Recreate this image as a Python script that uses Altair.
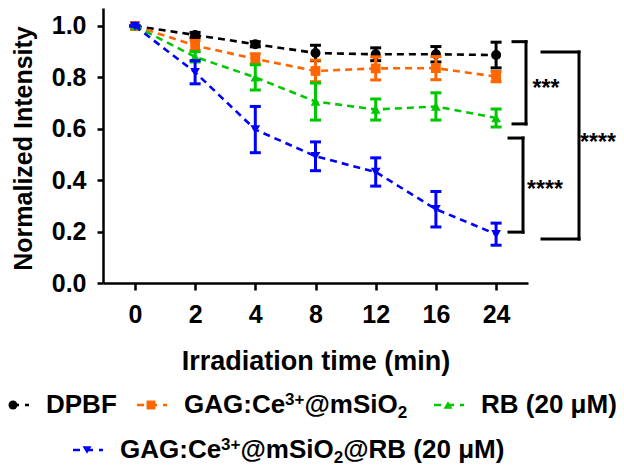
import altair as alt
import pandas as pd

# ---------------- data ----------------
times = ["0", "2", "4", "8", "12", "16", "24"]
series_names = ["DPBF", "GAG:Ce3+@mSiO2", "RB (20 μM)", "GAG:Ce3+@mSiO2@RB (20 μM)"]

dpbf = [1.0, 0.965, 0.929, 0.895, 0.89, 0.89, 0.887]
dpbf_err = [0.0, 0.01, 0.01, 0.03, 0.025, 0.03, 0.05]

ce_msio2 = [1.0, 0.924, 0.872, 0.825, 0.835, 0.836, 0.803]
ce_msio2_err = [0.0, 0.02, 0.02, 0.042, 0.045, 0.045, 0.02]

rb = [1.0, 0.88, 0.80, 0.706, 0.675, 0.687, 0.642]
rb_err = [0.0, 0.02, 0.049, 0.072, 0.041, 0.053, 0.035]

ce_msio2_rb = [1.0, 0.82, 0.597, 0.493, 0.432, 0.287, 0.19]
ce_msio2_rb_err = [0.0, 0.045, 0.09, 0.056, 0.055, 0.069, 0.043]

# legend labels split into (text, kind) pieces: n = normal, sup = superscript, sub = subscript
legend_pieces = [
    [("DPBF", "n")],
    [("GAG:Ce", "n"), ("3+", "sup"), ("@mSiO", "n"), ("2", "sub")],
    [("RB (20 μM)", "n")],
    [("GAG:Ce", "n"), ("3+", "sup"), ("@mSiO", "n"), ("2", "sub"), ("@RB (20 μM)", "n")],
]

# significance brackets
bracket_top = [0.939, 0.564, 0.899]
bracket_bottom = [0.619, 0.198, 0.171]
bracket_labels = ["***", "****", "****"]
bracket_label_y = [0.778, 0.385, 0.568]

# ---------------- styles ----------------
colors = ["#000000", "#FF6600", "#00C800", "#0000FF"]
shapes = ["circle", "square", "triangle-up", "triangle-down"]
sizes = [100, 95, 95, 95]
FONT = "Liberation Sans"
W, H = 425, 275
YMAX = 1.07

yscale = alt.Scale(domain=[0, YMAX], nice=False, zero=True)
xscale = alt.Scale(type="point", padding=0.53, domain=times)

yaxis = alt.Axis(
    title="Normalized Intensity", values=[0, 0.2, 0.4, 0.6, 0.8, 1.0], format=".1f",
    grid=False, domainColor="black", domainWidth=2.5, tickColor="black", tickWidth=2.5,
    tickSize=6, labelFont=FONT, labelFontSize=25, labelFontWeight="bold", labelColor="black",
    labelPadding=11, titleFont=FONT, titleFontSize=25, titleFontWeight="bold", titleColor="black",
    titleAngle=270, titleBaseline="alphabetic", titleX=-72, titleY=140, titleAlign="center",
)
xaxis = alt.Axis(
    title="Irradiation time (min)", labelAngle=0, grid=False, domainColor="black",
    domainWidth=2.5, tickColor="black", tickWidth=2.5, tickSize=7, labelFont=FONT,
    labelFontSize=25, labelFontWeight="bold", labelColor="black", labelPadding=12,
    titleFont=FONT, titleFontSize=27, titleFontWeight="bold", titleColor="black",
    titleBaseline="alphabetic", titleY=86,
)


def Y(field):
    return alt.Y(f"{field}:Q", scale=yscale, axis=yaxis)


def X():
    return alt.X("t:O", scale=xscale, sort=times, axis=xaxis)


layers = []
all_vals = [dpbf, ce_msio2, rb, ce_msio2_rb]
all_errs = [dpbf_err, ce_msio2_err, rb_err, ce_msio2_rb_err]
for name, vals, errs, col, shp, sz in zip(series_names, all_vals, all_errs, colors, shapes, sizes):
    df = pd.DataFrame({
        "t": times,
        "v": vals,
        "lo": [v - e for v, e in zip(vals, errs)],
        "hi": [v + e for v, e in zip(vals, errs)],
        "series": name,
    })
    base = alt.Chart(df)
    line = base.mark_line(color=col, strokeWidth=2.6, strokeDash=[7, 5]).encode(x=X(), y=Y("v"))
    err = base.mark_rule(color=col, strokeWidth=3).encode(x=X(), y=Y("lo"), y2="hi:Q")
    cap_lo = base.mark_tick(color=col, thickness=3, size=11, opacity=1).encode(x=X(), y=Y("lo"))
    cap_hi = base.mark_tick(color=col, thickness=3, size=11, opacity=1).encode(x=X(), y=Y("hi"))
    pts = base.mark_point(filled=True, shape=shp, size=sz, color=col, opacity=1).encode(x=X(), y=Y("v"))
    layers += [line, err, cap_lo, cap_hi, pts]

# ---------------- significance brackets ----------------
bracket_x = [(410, 423), (406, 420), (439, 476)]
label_x = [443, 442, 495]
for top, bot, lab, ly, (x0, x1), lx in zip(bracket_top, bracket_bottom, bracket_labels,
                                           bracket_label_y, bracket_x, label_x):
    bdf = pd.DataFrame({"v": [top], "v2": [bot], "lab": [lab], "ly": [ly]})
    b = alt.Chart(bdf)
    layers.append(b.mark_rule(color="black", strokeWidth=3, strokeCap="square").encode(
        x=alt.value(x1), y=Y("v"), y2="v2:Q"))
    layers.append(b.mark_rule(color="black", strokeWidth=3, strokeCap="square").encode(
        x=alt.value(x0), x2=alt.value(x1), y=Y("v")))
    layers.append(b.mark_rule(color="black", strokeWidth=3, strokeCap="square").encode(
        x=alt.value(x0), x2=alt.value(x1), y=Y("v2")))
    layers.append(b.mark_text(font=FONT, fontSize=23, fontWeight="bold", color="black",
                              align="center", baseline="alphabetic", dy=13).encode(
        x=alt.value(lx), y=Y("ly"), text="lab:N"))

# ---------------- legend (two rows, second centred) ----------------
# Liberation Sans Bold advance widths (per 1000 em)
ADV = {"G": 778, "A": 722, ":": 333, "C": 722, "e": 556, "@": 975, "m": 889, "S": 667,
       "i": 278, "O": 778, "R": 722, "B": 722, " ": 278, "(": 333, ")": 333, "0": 556,
       "2": 556, "3": 556, "+": 584, "μ": 576, "M": 833, "D": 722, "P": 667, "F": 611}
FS_MAIN, FS_SMALL = 26, 17
piece_style = {"n": (FS_MAIN, 0), "sup": (FS_SMALL, -8), "sub": (FS_SMALL, 5)}

legend_marker_x = [-90, 48, 345, -16]
legend_row_y = [397, 397, 397, 442]
for name, pieces, col, shp, mx, my in zip(series_names, legend_pieces, colors, shapes,
                                          legend_marker_x, legend_row_y):
    ldf = pd.DataFrame({"lab": [name]})
    l = alt.Chart(ldf)
    layers.append(l.mark_rule(color=col, strokeWidth=2.6, strokeDash=[7, 6]).encode(
        x=alt.value(mx - 14), x2=alt.value(mx + 16), y=alt.value(my)))
    layers.append(l.mark_point(filled=True, shape=shp, size=80, color=col, opacity=1).encode(
        x=alt.value(mx), y=alt.value(my)))
    cx = mx + 33
    for txt, kind in pieces:
        fs, dy = piece_style[kind]
        pdf = pd.DataFrame({"lab": [txt]})
        layers.append(alt.Chart(pdf).mark_text(
            font=FONT, fontSize=fs, fontWeight="bold", color="black",
            align="left", baseline="alphabetic", dy=dy).encode(
            x=alt.value(cx), y=alt.value(my + 8), text="lab:N"))
        cx += sum(ADV.get(ch, 556) for ch in txt) * fs / 1000.0

chart = alt.layer(*layers).properties(
    width=W, height=H,
    autosize=alt.AutoSizeParams(type="none"),
    padding={"left": 95, "top": 0, "right": 88, "bottom": 184},
).configure_view(stroke=None)

chart.save("out.html", embed_options={"renderer": "svg", "actions": False})
